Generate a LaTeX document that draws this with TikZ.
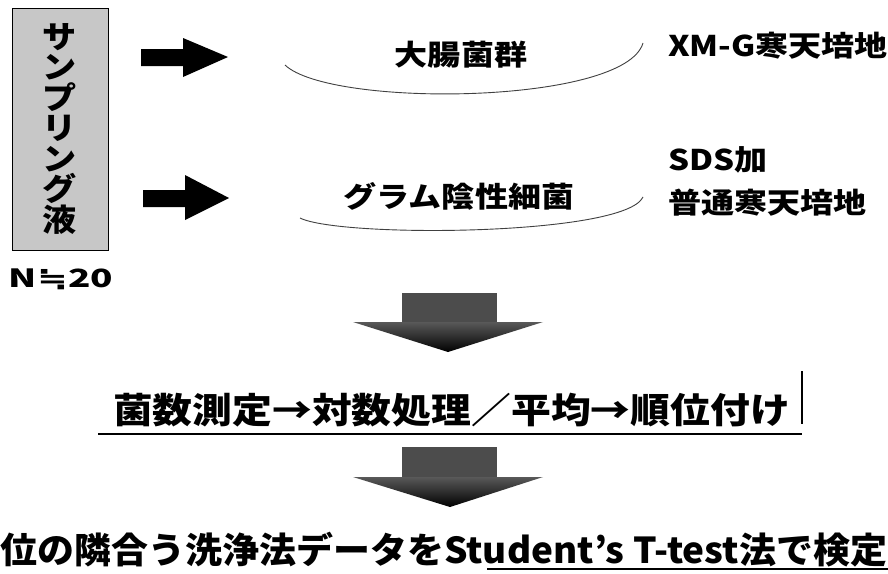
\documentclass[tikz,border=0pt]{standalone}
\usepackage{fontspec}
\setmainfont{Noto Sans CJK JP}
\newfontfamily\symfont{DejaVu Sans}
\usepackage{graphicx}
\newcommand\hs[1]{\scalebox{1.16}[1]{#1}}
\begin{document}
\begin{tikzpicture}[x=1pt,y=-1pt,
  every node/.style={inner sep=0pt, outer sep=0pt, font=\bfseries},
  lbl/.style={font=\fontsize{28.5}{30}\selectfont\bfseries},
  vch/.style={anchor=base, font=\fontsize{31}{31}\selectfont\bfseries},
  curvel/.style={draw=black!75, line width=0.9pt},
  rarrow/.style={fill=black},
  dshaft/.style={fill=black!70},
  dhead/.style={top color=black!65, bottom color=black},
  rule/.style={line width=1.1pt}]
\useasboundingbox[fill=white] (0,0) rectangle (888,573);

% sample box
\node (box) [draw=black, line width=1pt, fill=black!22, minimum width=96pt, minimum height=242pt] at (60,129) {};
\foreach \c [count=\i from 0] in {サ,ン,プ,リ,ン,グ,液}
  \node (s\i) [vch] at (60,48+30.5*\i) {\scalebox{1.1}[1]{\c}};
\node (n) at (61,279) {\resizebox*{104pt}{21pt}{N{\symfont ≒}20}};

% right arrows
\fill[rarrow] (141,49) -- (183,49) -- (183,38) -- (228,57) -- (183,77) -- (183,66) -- (141,66) -- cycle;
\fill[rarrow] (143,190) -- (185,190) -- (185,175) -- (229,198) -- (185,220) -- (185,207) -- (143,207) -- cycle;

% group labels with curves
\node (g1) [lbl] at (461,55) {\hs{大腸菌群}};
\draw[curvel] (285,65) .. controls (330,108) and (625,105) .. (643,43);
\node (g2) [lbl] at (459,196) {\hs{グラム陰性細菌}};
\draw[curvel] (300,218) .. controls (340,238) and (625,236) .. (643,197);

% media labels
\node (m1) [lbl, anchor=west] at (668,46) {\hs{XM-G寒天培地}};
\node (m2) [lbl, anchor=west] at (668,160) {\hs{SDS加}};
\node (m3) [lbl, anchor=west] at (668,203) {\hs{普通寒天培地}};

% down arrow 1
\fill[dshaft] (402,293) rectangle (497,323);
\shade[dhead] (353,322) -- (543,322) -- (448,352) -- cycle;

% processing line
\node (proc) at (451.5,410) {\resizebox*{677pt}{34pt}{菌数測定→対数処理／平均→順位付け}};
\draw[rule] (802,371) -- (802,424);
\draw[rule] (98,434) -- (802,434);

% down arrow 2
\fill[dshaft] (402,447) rectangle (497,478);
\shade[dhead] (353,477) -- (543,477) -- (450,507) -- cycle;

% result line
\node (res) at (444,550) {\resizebox*{886pt}{35pt}{位の隣合う洗浄法データをStudent’s T-test法で検定}};
\draw[rule] (487,569) -- (888,569);
\end{tikzpicture}
\end{document}
